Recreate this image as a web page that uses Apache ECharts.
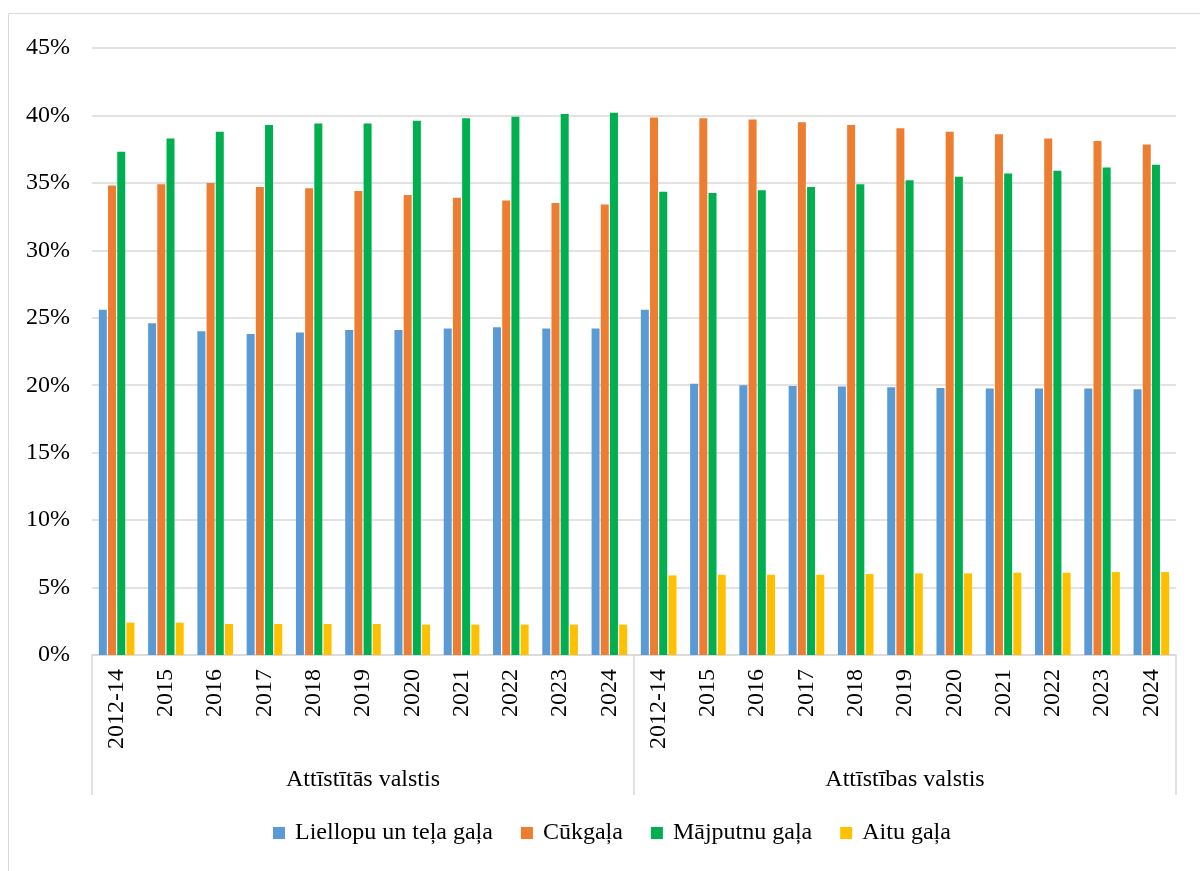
<!DOCTYPE html>
<html>
<head>
<meta charset="utf-8">
<script src="https://cdn.jsdelivr.net/npm/echarts@6/dist/echarts.min.js"></script>
<style>html,body{margin:0;padding:0;background:#fff;}#c{width:1200px;height:871px;}</style>
</head>
<body>
<div id="c"></div>
<script>
var years = ['2012-14','2015','2016','2017','2018','2019','2020','2021','2022','2023','2024'];
var groups = ['Attīstītās valstis','Attīstības valstis'];
var seriesNames = ['Liellopu un teļa gaļa','Cūkgaļa','Mājputnu gaļa','Aitu gaļa'];

// Developed countries (Attīstītās valstis), %
var devBeef    = [25.6, 24.6, 24.0, 23.8, 23.9, 24.1, 24.1, 24.2, 24.3, 24.2, 24.2];
var devPork    = [34.8, 34.9, 35.0, 34.7, 34.6, 34.4, 34.1, 33.9, 33.7, 33.5, 33.4];
var devPoultry = [37.3, 38.3, 38.8, 39.3, 39.4, 39.4, 39.6, 39.8, 39.9, 40.1, 40.2];
var devSheep   = [2.4, 2.4, 2.3, 2.3, 2.3, 2.3, 2.25, 2.25, 2.25, 2.25, 2.25];

// Developing countries (Attīstības valstis), %
var dvgBeef    = [25.6, 20.1, 20.0, 19.95, 19.9, 19.85, 19.8, 19.75, 19.75, 19.75, 19.7];
var dvgPork    = [39.85, 39.8, 39.7, 39.5, 39.3, 39.05, 38.8, 38.6, 38.3, 38.1, 37.85];
var dvgPoultry = [34.35, 34.25, 34.45, 34.7, 34.9, 35.2, 35.45, 35.7, 35.9, 36.15, 36.35];
var dvgSheep   = [5.9, 5.95, 5.95, 5.95, 6.0, 6.05, 6.05, 6.1, 6.1, 6.15, 6.15];

var yTicks = [0, 5, 10, 15, 20, 25, 30, 35, 40, 45];

var cats = years.concat(years);
var catIds = cats.map(function (c, i) { return i + ':' + c; });
var colors = ['#5B9BD5', '#ED7D31', '#00B050', '#FFC000'];
var seriesData = [
  devBeef.concat(dvgBeef),
  devPork.concat(dvgPork),
  devPoultry.concat(dvgPoultry),
  devSheep.concat(dvgSheep)
];
var FONT = 'Liberation Serif';
var FS = 24;

var chart = echarts.init(document.getElementById('c'), null, {renderer: 'canvas'});
chart.setOption({
  animation: false,
  backgroundColor: '#fff',
  color: colors,
  textStyle: {fontFamily: FONT, fontSize: FS},
  graphic: [{
    type: 'rect', silent: true, z: -10,
    shape: {x: 8.5, y: 13.5, width: 1200, height: 870},
    style: {fill: 'none', stroke: '#D9D9D9', lineWidth: 1}
  }],
  grid: {left: 92, right: 24, top: 48, bottom: 216, containLabel: false},
  legend: {
    bottom: 21,
    left: 268,
    itemWidth: 12,
    itemHeight: 12,
    itemGap: 28,
    icon: 'rect',
    textStyle: {fontFamily: FONT, fontSize: FS, color: '#000', padding: [0, 0, 0, 5]},
    data: seriesNames
  },
  xAxis: [{
    type: 'category',
    data: catIds,
    position: 'bottom',
    axisLine: {show: true, lineStyle: {color: '#D9D9D9', width: 1.5}},
    axisTick: {show: false},
    axisLabel: {
      interval: 0, rotate: 90, margin: 14,
      fontFamily: FONT, fontSize: FS, color: '#000',
      formatter: function (v) { return v.split(':')[1]; }
    }
  }, {
    type: 'category',
    data: groups,
    position: 'bottom',
    gridIndex: 0,
    boundaryGap: true,
    axisLine: {show: false},
    axisTick: {show: true, interval: 0, length: 140, lineStyle: {color: '#D9D9D9', width: 1.5}},
    axisLabel: {interval: 0, margin: 113, fontFamily: FONT, fontSize: FS, color: '#000'},
    splitLine: {show: false}
  }],
  yAxis: {
    type: 'value',
    min: yTicks[0],
    max: yTicks[yTicks.length - 1],
    interval: 5,
    axisLine: {show: false},
    axisTick: {show: false},
    splitLine: {lineStyle: {color: '#D9D9D9', width: 1.5}},
    axisLabel: {margin: 22, fontFamily: FONT, fontSize: FS, color: '#000', formatter: '{value}%'}
  },
  series: seriesNames.map(function (n, i) {
    return {
      name: n,
      type: 'bar',
      xAxisIndex: 0,
      data: seriesData[i],
      barWidth: 8,
      barGap: '15%',
      itemStyle: {color: colors[i]}
    };
  })
});
</script>
</body>
</html>
